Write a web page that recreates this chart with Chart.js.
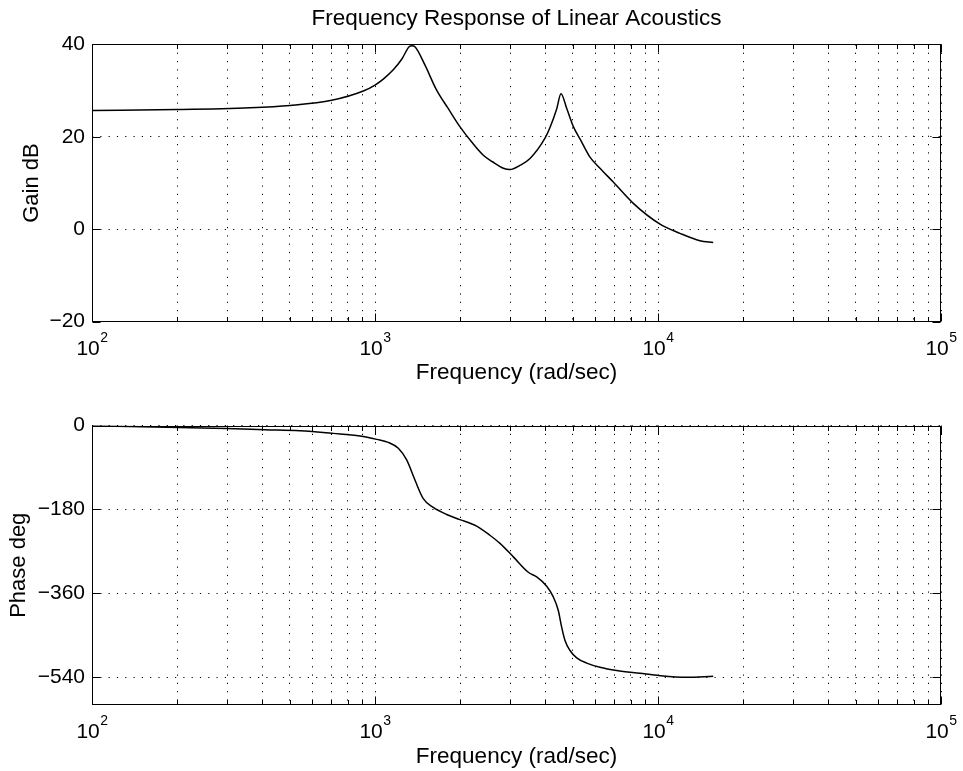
<!DOCTYPE html>
<html>
<head>
<meta charset="utf-8">
<script src="https://cdn.jsdelivr.net/npm/chart.js@4/dist/chart.umd.min.js"></script>
<style>
html,body{margin:0;padding:0;background:#fff;}
#wrap{position:relative;width:963px;height:771px;background:#fff;}
canvas{position:absolute;left:0;top:0;}
</style>
</head>
<body>
<div id="wrap">
<canvas id="c1" width="963" height="771"></canvas>
<canvas id="c2" width="963" height="771"></canvas>
</div>
<script>
// ---------- data ----------
const chartTitle = 'Frequency Response of Linear Acoustics';
const xAxisTitle = 'Frequency (rad/sec)';
const gainTitle = 'Gain dB';
const phaseTitle = 'Phase deg';

const freqGain = [100, 200, 362, 501, 703, 909, 1000, 1075, 1160, 1246, 1320, 1352, 1384, 1502, 1651, 1811, 1995, 2200, 2414, 2600, 2841, 2999, 3252, 3530, 3988, 4153, 4385, 4541, 4766, 5022, 5318, 5750, 6237, 6950, 8178, 10165, 11956, 14060, 15670];
const gainDb   = [25.7, 25.9, 26.3, 26.8, 27.9, 29.9, 31.2, 32.6, 34.5, 36.9, 39.5, 39.7, 39.5, 35.5, 30.1, 26.2, 22.2, 18.8, 16.0, 14.6, 13.2, 12.9, 13.8, 15.3, 19.7, 22.0, 26.0, 29.3, 26.0, 22.2, 19.4, 15.6, 13.2, 10.2, 5.6, 1.1, -0.9, -2.5, -2.9];

const freqPhase = [100, 184, 300, 409, 543, 712, 885, 1014, 1114, 1209, 1294, 1384, 1481, 1607, 1792, 1995, 2285, 2546, 2765, 3082, 3481, 3727, 4044, 4266, 4443, 4567, 4692, 4887, 5161, 5598, 6237, 7145, 8638, 10165, 12620, 15670];
const phaseDeg  = [-0.5, -3.5, -6.5, -9, -11.2, -16.9, -22.6, -29.8, -36.2, -49, -74, -117, -157, -176, -191, -202, -216, -235.6, -253, -282, -315, -325, -345, -368, -397, -433, -461.5, -483, -498.7, -510, -519, -526, -532, -537, -540.4, -538.3];

const xTickValues = [100,200,300,400,500,600,700,800,900,1000,2000,3000,4000,5000,6000,7000,8000,9000,10000,20000,30000,40000,50000,60000,70000,80000,90000,100000];
const xDecades = [100, 1000, 10000, 100000];
const xDecadeExponents = ['2', '3', '4', '5'];
const gainTicks = [-20, 0, 20, 40];
const phaseTicks = [-540, -360, -180, 0];

// ---------- styling ----------
const FONT = '"Liberation Sans", Arial, Helvetica, sans-serif';
Chart.defaults.font.family = FONT;
Chart.defaults.color = '#000';

const matlabAxes = {
  id: 'matlabAxes',
  afterDraw(chart) {
    const ctx = chart.ctx;
    const a = chart.chartArea;
    const xs = chart.scales.x, ys = chart.scales.y;
    const L = Math.round(a.left) + 0.5, R = Math.round(a.right) - 0.5;
    const T = Math.round(a.top) + 0.5, B = Math.round(a.bottom) - 0.5;
    ctx.save();
    ctx.strokeStyle = '#000';
    ctx.lineWidth = 1;
    ctx.setLineDash([]);
    ctx.strokeRect(L, T, R - L, B - T);
    ctx.beginPath();
    xs.ticks.forEach(t => {
      const px = Math.round(xs.getPixelForValue(t.value)) + 0.5;
      const len = xDecades.includes(t.value) ? 8 : 4.5;
      ctx.moveTo(px, B); ctx.lineTo(px, B - len);
      ctx.moveTo(px, T); ctx.lineTo(px, T + len);
    });
    ys.ticks.forEach(t => {
      const py = Math.round(ys.getPixelForValue(t.value)) + 0.5;
      ctx.moveTo(L, py); ctx.lineTo(L + 8, py);
      ctx.moveTo(R, py); ctx.lineTo(R - 8, py);
    });
    ctx.stroke();
    // decade labels 10^n
    const base = a.bottom + 33.4;
    ctx.fillStyle = '#000';
    ctx.textBaseline = 'alphabetic';
    ctx.textAlign = 'left';
    xDecades.forEach((v, i) => {
      const px = xs.getPixelForValue(v);
      ctx.font = '21px ' + FONT;
      const w1 = ctx.measureText('10').width;
      ctx.font = '14px ' + FONT;
      const w2 = ctx.measureText(xDecadeExponents[i]).width;
      const start = px - (w1 + w2) / 2;
      ctx.font = '21px ' + FONT;
      ctx.fillText('10', start, base);
      ctx.font = '14px ' + FONT;
      ctx.fillText(xDecadeExponents[i], start + w1 + 0.5, base - 13.3);
    });
    ctx.restore();
  }
};

function minus(v) { return String(v).replace('-', '\u2212'); }

function makeChart(id, opts) {
  const xs = opts.xs, ys = opts.ys;
  const scales = {
    x: {
      type: 'logarithmic',
      position: 'bottom',
      min: 100, max: 100000,
      afterBuildTicks: s => { s.ticks = xTickValues.map(v => ({value: v, major: xDecades.includes(v)})); },
      afterFit: s => { s.height = 65.1; },
      ticks: { display: false, autoSkip: false },
      grid: { color: '#000', lineWidth: 1, drawTicks: false },
      border: { display: false, dash: [1.2, 7.1] },
      title: {
        display: true, text: xAxisTitle, color: '#000',
        font: { family: FONT, size: 22.5, weight: 'normal' },
        padding: { top: 0, bottom: 0 }
      }
    },
    y: {
      type: 'linear',
      min: opts.ymin, max: opts.ymax,
      afterBuildTicks: s => { s.ticks = opts.yticks.map(v => ({value: v})); },
      afterFit: s => { s.width = 92; },
      ticks: { color: '#000', font: { family: FONT, size: 21 }, padding: 7, callback: v => minus(v) },
      grid: { color: '#000', lineWidth: 1, drawTicks: false },
      border: { display: false, dash: [1.2, 7.1] },
      title: {
        display: true, text: opts.ytitle, color: '#000',
        font: { family: FONT, size: 22, weight: 'normal' },
        padding: { top: opts.ytitlePad, bottom: 0 }
      }
    }
  };
  if (opts.title) {
    scales.xTitle = {
      type: 'logarithmic',
      position: 'top',
      min: 100, max: 100000,
      afterFit: s => { s.height = 44.4; },
      ticks: { display: false },
      grid: { display: false },
      border: { display: false },
      title: {
        display: true, text: opts.title, color: '#000',
        font: { family: FONT, size: 22.5, weight: 'normal' },
        padding: { top: 5.6, bottom: 0 }
      }
    };
  }
  return new Chart(document.getElementById(id), {
    type: 'line',
    data: {
      datasets: [{
        xAxisID: 'x',
        yAxisID: 'y',
        data: xs.map((f, i) => ({x: f, y: ys[i]})),
        borderColor: '#000',
        borderWidth: 1.5,
        pointRadius: 0,
        fill: false,
        cubicInterpolationMode: 'monotone'
      }]
    },
    options: {
      responsive: false,
      animation: false,
      devicePixelRatio: 1,
      layout: { padding: opts.padding },
      plugins: {
        legend: { display: false },
        tooltip: { enabled: false },
        title: { display: false }
      },
      scales
    },
    plugins: [matlabAxes]
  });
}

makeChart('c1', {
  xs: freqGain, ys: gainDb, ymin: -20, ymax: 40, yticks: gainTicks,
  ytitle: gainTitle, ytitlePad: 18.5, title: chartTitle,
  padding: { left: 0, right: 22, top: 0, bottom: 384.3 }
});
makeChart('c2', {
  xs: freqPhase, ys: phaseDeg, ymin: -600, ymax: 0, yticks: phaseTicks,
  ytitle: phaseTitle, ytitlePad: 5.9, title: null,
  padding: { left: 0, right: 22, top: 425.5, bottom: 0.9 }
});
</script>
</body>
</html>
